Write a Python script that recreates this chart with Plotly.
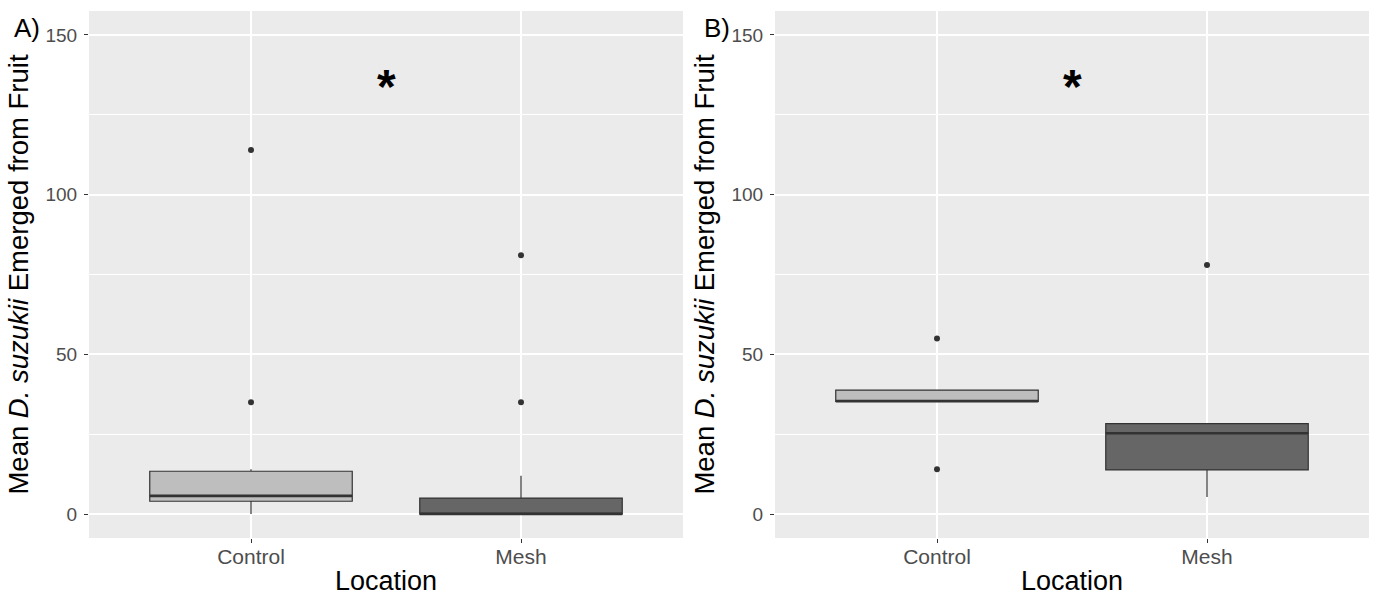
import plotly.graph_objects as go

# ---------------- data ----------------
categories = ["Control", "Mesh"]
positions = [1, 2]
box_fills = ["#BEBEBE", "#666666"]

# Panel A
a_q1 = [4.0, 0.0]
a_median = [5.7, 0.0]
a_q3 = [13.4, 5.0]
a_lower = [0.0, 0.0]
a_upper = [14.0, 12.0]
a_out_x = [1, 1, 2, 2]
a_out_y = [35, 114, 35, 81]

# Panel B
b_q1 = [35.3, 13.8]
b_median = [35.3, 25.3]
b_q3 = [38.8, 28.3]
b_lower = [35.3, 5.3]
b_upper = [38.8, 28.3]
b_out_x = [1, 1, 2]
b_out_y = [55, 14, 78]

sig_x = [1.5]
sig_y = [134]
sig_text = ["<b>*</b>"]

y_ticks = [0, 50, 100, 150]
y_title = "Mean <i>D. suzukii</i> Emerged from Fruit"
x_title = "Location"
panel_labels = ["A)", "B)"]

# ---------------- style ----------------
FONT = "Liberation Sans, Arial, sans-serif"
BOX_W = 0.75
LINE = "#333333"
W, H = 1376, 596

fig = go.Figure()

panels = [
    ("x", "y", a_q1, a_median, a_q3, a_lower, a_upper, a_out_x, a_out_y),
    ("x2", "y2", b_q1, b_median, b_q3, b_lower, b_upper, b_out_x, b_out_y),
]

for xa, ya, q1, med, q3, lo, up, ox, oy in panels:
    for i, p in enumerate(positions):
        fig.add_trace(go.Box(
            x=[p], q1=[q1[i]], median=[med[i]], q3=[q3[i]],
            lowerfence=[lo[i]], upperfence=[up[i]],
            width=BOX_W, whiskerwidth=0, boxpoints=False,
            fillcolor=box_fills[i], line=dict(color=LINE, width=1.2),
            xaxis=xa, yaxis=ya, showlegend=False, hoverinfo="skip",
        ))
        # thicker median line (ggplot style)
        fig.add_trace(go.Scatter(
            x=[p - BOX_W / 2, p + BOX_W / 2], y=[med[i], med[i]],
            mode="lines", line=dict(color=LINE, width=2.6),
            xaxis=xa, yaxis=ya, showlegend=False, hoverinfo="skip",
        ))
    fig.add_trace(go.Scatter(
        x=ox, y=oy, mode="markers",
        marker=dict(color=LINE, size=6),
        xaxis=xa, yaxis=ya, showlegend=False, hoverinfo="skip",
    ))

# domains (full-figure paper coordinates, margins zero)
xdomA = [89 / W, 683 / W]
xdomB = [775 / W, 1369 / W]
ydom = [(H - 538) / H, (H - 11) / H]

xaxis_common = dict(
    range=[0.4, 2.6], tickmode="array", tickvals=positions, ticktext=categories,
    showgrid=True, gridcolor="white", gridwidth=2, zeroline=False, showline=False,
    ticks="outside", ticklen=4, tickcolor=LINE, tickwidth=1, ticklabelstandoff=-4,
    tickfont=dict(family=FONT, size=21, color="#4D4D4D"),
    title=dict(text=x_title, font=dict(family=FONT, size=27, color="black"), standoff=8),
    fixedrange=True,
)
yaxis_common = dict(
    range=[-7.5, 157.5], tickmode="array", tickvals=y_ticks,
    showgrid=True, gridcolor="white", gridwidth=2, zeroline=False, showline=False,
    ticks="outside", ticklen=4, tickcolor=LINE, tickwidth=1, ticklabelstandoff=3,
    tickfont=dict(family=FONT, size=19, color="#4D4D4D"),
    minor=dict(tickvals=[25, 75, 125], showgrid=True, gridcolor="white", gridwidth=1, ticks=""),
    title=dict(text=y_title, font=dict(family=FONT, size=27.5, color="black"), standoff=8),
    fixedrange=True,
)

fig.update_layout(
    width=W, height=H,
    margin=dict(l=0, r=0, t=0, b=0),
    paper_bgcolor="white", plot_bgcolor="#EBEBEB",
    xaxis=dict(domain=xdomA, anchor="y", **xaxis_common),
    yaxis=dict(domain=ydom, anchor="x", **yaxis_common),
    xaxis2=dict(domain=xdomB, anchor="y2", **xaxis_common),
    yaxis2=dict(domain=ydom, anchor="x2", **yaxis_common),
    font=dict(family=FONT),
)

# significance asterisks
for xr, yr in [("x", "y"), ("x2", "y2")]:
    for sx, sy, st in zip(sig_x, sig_y, sig_text):
        fig.add_annotation(x=sx, y=sy, xref=xr, yref=yr, text=st, showarrow=False,
                           font=dict(family=FONT, size=48, color="black"),
                           xanchor="center", yanchor="middle")

# panel labels
for lbl, px in zip(panel_labels, [12 / W, 702 / W]):
    fig.add_annotation(x=px, y=1 - 28 / H, xref="paper", yref="paper", text=lbl,
                       showarrow=False, xanchor="left", yanchor="middle",
                       font=dict(family=FONT, size=26, color="black"))

fig.write_html(
    "out.html",
    config={"displayModeBar": False},
    post_script="document.body.style.margin='0';document.body.style.overflow='hidden';",
)
